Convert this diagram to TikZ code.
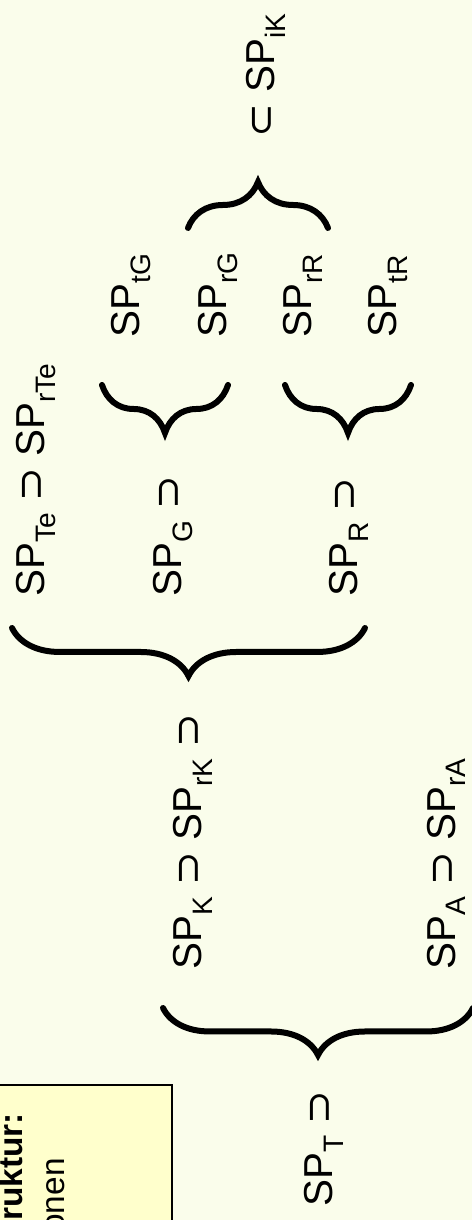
\documentclass[tikz,border=0pt]{standalone}
\usepackage{fontspec}
\setsansfont{Liberation Sans}
\newfontfamily\djvfont{DejaVu Sans}
\usetikzlibrary{decorations.pathreplacing}
\definecolor{bgcream}{HTML}{FAFDEB}
\definecolor{boxyellow}{HTML}{FFFFCC}
\tikzset{every picture/.style={/utils/exec={\sffamily}}}
\tikzset{setlbl/.style={anchor=base west,inner sep=0pt,font=\fontsize{23}{27}\selectfont}}
\tikzset{boxtxt/.style={anchor=base east,inner sep=0pt,font=\fontsize{19}{22}\selectfont}}
\tikzset{curly/.style={decorate,decoration={brace,amplitude=#1},line width=0.12cm,line cap=round}}
\newcommand{\SPs}[1]{SP\raisebox{-0.27em}{\fontsize{16}{18}\selectfont #1}}
\newcommand{\supsym}{{\djvfont ⊃}}
\newcommand{\subsym}{{\djvfont ⊂}}

\begin{document}
\begin{tikzpicture}[x=0.02cm,y=0.02cm,rotate=90,transform shape]
    \fill [bgcream] (0,0) rectangle (1220,472);
    \useasboundingbox (0,0) rectangle (1220,472);
    % Kasten, am Rand abgeschnitten
    \begin{scope}
        \clip (0,0) rectangle (1220,472);
        \filldraw [fill=boxyellow,draw=black,line width=0.6pt] (-30,300) rectangle (135,500);
        \node [boxtxt,font=\fontsize{19}{22}\selectfont\bfseries] (kopf) at (107,449) {ruktur:};
        \node [boxtxt] (zeile) at (62,407) {onen};
    \end{scope}
    % Stufe 1
    \node [setlbl] (T) at (13,139) {\SPs{T} \supsym};
    \draw [curly=0.94cm] (212,-1) -- (212,309);
    % Stufe 2
    \node [setlbl] (K) at (250,270) {\SPs{K} \supsym{} \SPs{rK} \supsym};
    \node [setlbl] (A) at (250,17) {\SPs{A} \supsym{} \SPs{rA}};
    \draw [curly=0.96cm] (592,107) -- (592,460);
    % Stufe 3
    \node [setlbl] (Te) at (623,427) {\SPs{Te} \supsym{} \SPs{rTe}};
    \node [setlbl] (G) at (623,290) {\SPs{G} \supsym};
    \node [setlbl] (R) at (623,114) {\SPs{R} \supsym};
    \draw [curly=0.96cm] (835,244) -- (835,370);
    \draw [curly=0.96cm] (835,61) -- (835,187);
    % Stufe 4
    \node [setlbl] (tG) at (882,332) {\SPs{tG}};
    \node [setlbl] (rG) at (882,245) {\SPs{rG}};
    \node [setlbl] (rR) at (882,160) {\SPs{rR}};
    \node [setlbl] (tR) at (882,75) {\SPs{tR}};
    \draw [curly=0.92cm] (992,284) -- (992,144);
    \node [setlbl] (iK) at (1082,197) {\subsym{} \SPs{iK}};
\end{tikzpicture}
\end{document}
